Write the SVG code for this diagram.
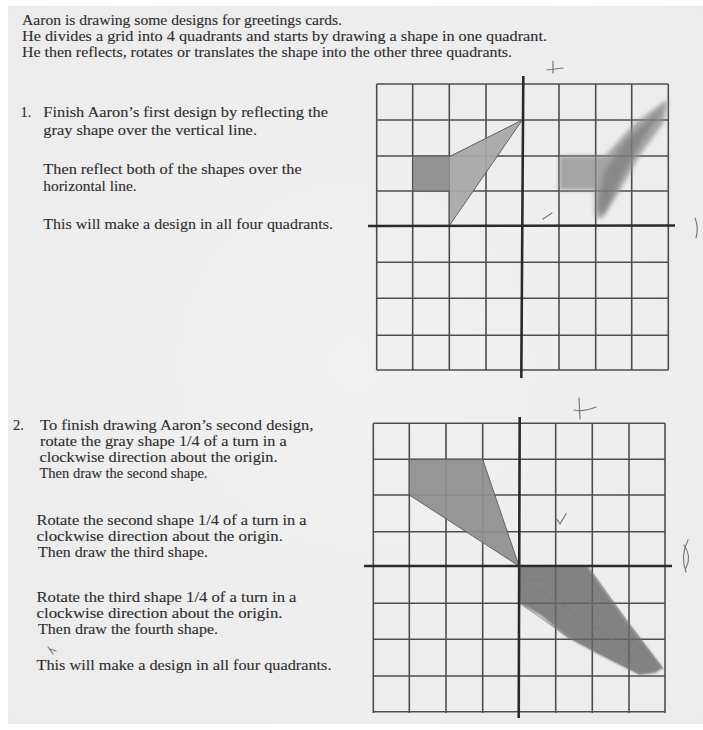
<svg xmlns="http://www.w3.org/2000/svg" width="703" height="730" viewBox="0 0 703 730">
  <defs>
    <filter id="blur2" x="-20%" y="-20%" width="140%" height="140%"><feGaussianBlur stdDeviation="2"/></filter>
    <filter id="blur1" x="-20%" y="-20%" width="140%" height="140%"><feGaussianBlur stdDeviation="1"/></filter>
    <radialGradient id="paper" cx="0.5" cy="0.5" r="0.75">
      <stop offset="0" stop-color="#f1f1f1"/>
      <stop offset="1" stop-color="#ebebeb"/>
    </radialGradient>
  </defs>
  <style>
    .t { font-family: "Liberation Serif", "Times New Roman", serif; font-size: 14.5px; fill: #2c2c2c; stroke: #3a3a3a; stroke-width: 0.12; }
    .grid { fill: none; stroke: #4e4e4e; stroke-width: 1.6; }
    .axis { fill: none; stroke: #2a2a2a; stroke-width: 2.6; }
    .outline { stroke: #5a5a5a; stroke-width: 1; stroke-linejoin: round; }
    .pencil { fill: none; stroke: #7a7a7a; stroke-width: 1.2; stroke-linecap: round; }
  </style>

  <rect x="0" y="0" width="703" height="730" fill="#ffffff"/>
  <rect x="8" y="6" width="695" height="718" fill="url(#paper)"/>

  <g id="intro">
    <text class="t" x="22" y="25" textLength="320" lengthAdjust="spacingAndGlyphs">Aaron is drawing some designs for greetings cards.</text>
    <text class="t" x="22" y="41" textLength="525" lengthAdjust="spacingAndGlyphs">He divides a grid into 4 quadrants and starts by drawing a shape in one quadrant.</text>
    <text class="t" x="22" y="57" textLength="490" lengthAdjust="spacingAndGlyphs">He then reflects, rotates or translates the shape into the other three quadrants.</text>
  </g>

  <g id="question1-text">
    <text class="t" x="20.5" y="117">1.</text>
    <text class="t" x="43.3" y="117" textLength="284.7" lengthAdjust="spacingAndGlyphs">Finish Aaron’s first design by reflecting the</text>
    <text class="t" x="43.3" y="135" textLength="213.7" lengthAdjust="spacingAndGlyphs">gray shape over the vertical line.</text>
    <text class="t" x="43.3" y="174" textLength="258.4" lengthAdjust="spacingAndGlyphs">Then reflect both of the shapes over the</text>
    <text class="t" x="43.3" y="191" textLength="93.4" lengthAdjust="spacingAndGlyphs">horizontal line.</text>
    <text class="t" x="43.3" y="229" textLength="289.7" lengthAdjust="spacingAndGlyphs">This will make a design in all four quadrants.</text>
  </g>

  <g id="question2-text">
    <text class="t" x="13" y="430">2.</text>
    <text class="t" x="40" y="430" textLength="273.3" lengthAdjust="spacingAndGlyphs">To finish drawing Aaron’s second design,</text>
    <text class="t" x="40" y="446" textLength="246.7" lengthAdjust="spacingAndGlyphs">rotate the gray shape 1/4 of a turn in a</text>
    <text class="t" x="39.5" y="462" textLength="238" lengthAdjust="spacingAndGlyphs">clockwise direction about the origin.</text>
    <text class="t" x="39.5" y="478" textLength="168" lengthAdjust="spacingAndGlyphs">Then draw the second shape.</text>
    <text class="t" x="36.5" y="525" textLength="270" lengthAdjust="spacingAndGlyphs">Rotate the second shape 1/4 of a turn in a</text>
    <text class="t" x="36.5" y="541" textLength="246.5" lengthAdjust="spacingAndGlyphs">clockwise direction about the origin.</text>
    <text class="t" x="38" y="557" textLength="170" lengthAdjust="spacingAndGlyphs">Then draw the third shape.</text>
    <text class="t" x="36.5" y="602" textLength="260" lengthAdjust="spacingAndGlyphs">Rotate the third shape 1/4 of a turn in a</text>
    <text class="t" x="36.5" y="618" textLength="246" lengthAdjust="spacingAndGlyphs">clockwise direction about the origin.</text>
    <text class="t" x="38" y="634" textLength="180" lengthAdjust="spacingAndGlyphs">Then draw the fourth shape.</text>
    <text class="t" x="36.5" y="670" textLength="295" lengthAdjust="spacingAndGlyphs">This will make a design in all four quadrants.</text>
    <path class="pencil" d="M48,647 L53,654 M50,649 L56,651"/>
  </g>

  <g id="grid1">
    <path class="grid" d="M376.7,84 V370 M412.7,84 V370 M449.3,84 V370 M486,84 V370 M559,84 V370 M595.7,84 V370 M631.7,84 V370 M668.3,84 V370
      M376.7,84 H668.3 M376.7,120 H668.3 M376.7,156 H668.3 M376.7,191 H668.3 M376.7,262.3 H668.3 M376.7,298.3 H668.3 M376.7,335.3 H668.3 M376.7,370 H668.3"/>
    <g id="grid1-given-shape" opacity="0.92">
      <polygon points="412.7,156 449.3,156 449.3,191 412.7,191" fill="#8c8c8c"/>
      <polygon points="449.3,156 522.3,120 449.3,225.7" fill="#a7a7a7"/>
      <polygon class="outline" fill="none" points="412.7,156 451,156 522.3,120 449.3,225.7 449.3,191 412.7,191"/>
    </g>
    <g id="grid1-pencil-shape">
      <polygon filter="url(#blur2)" fill="#8c8c8c" opacity="0.75"
        points="668,100 664,122 640,155 620,190 602,219 595,216 595,190 559,190 559,156 605,156 634,124 662,103"/>
      <polygon filter="url(#blur2)" fill="#6e6e6e" opacity="0.5"
        points="665,106 642,140 622,176 604,214 597,208 604,172 626,140"/>
    </g>
    <path class="axis" d="M523.3,76 L521.3,378 M368,226 L675,225.5"/>
    <path class="pencil" d="M553,61 L553,73 M547,70 L563,68"/>
    <path class="pencil" stroke="#999" d="M543,219 L552,213"/>
    <path class="pencil" stroke="#bbb" d="M695,218 Q699,228 696,238"/>
  </g>

  <g id="grid2">
    <path class="grid" d="M373.3,423.3 V713 M409.3,423.3 V713 M446,423.3 V713 M482.7,423.3 V713 M555.7,423.3 V713 M592.3,423.3 V713 M629,423.3 V713 M665,423.3 V713
      M373.3,423.3 H665 M373.3,459.3 H665 M373.3,495 H665 M373.3,531.7 H665 M373.3,603.3 H665 M373.3,639.3 H665 M373.3,676 H665 M373.3,711.7 H665"/>
    <g id="grid2-given-shape" opacity="0.92">
      <polygon class="outline" fill="#8f8f8f" points="409.3,459.3 482.7,459.3 519,566 409.3,495"/>
    </g>
    <g id="grid2-pencil-shape">
      <polygon filter="url(#blur1)" fill="#686868" opacity="0.8"
        points="519,566 587,566 596,578 626,620 663,668 655,673 640,675 600,655 567,637 540,615 519,603"/>
      <path class="pencil" stroke="#4a4a4a" opacity="0.55" d="M520,603 L568,637 L640,674 M588,567 L626,620 L663,669 M540,590 L600,630 L650,668 M560,575 L610,620 L655,662 M525,580 L545,580 M530,590 L548,588"/>
    </g>
    <path class="axis" d="M519.7,417 L518.7,718 M364,566 L672,566"/>
    <path class="pencil" d="M579,398 L580,419 M574,410 Q584,412 596,407"/>
    <path class="pencil" stroke="#999" d="M556,518 L560,524 L566,514"/>
    <path class="pencil" stroke="#c4c4c4" d="M688,540 Q680,556 686,572 M684,545 Q692,556 686,568"/>
  </g>
</svg>
